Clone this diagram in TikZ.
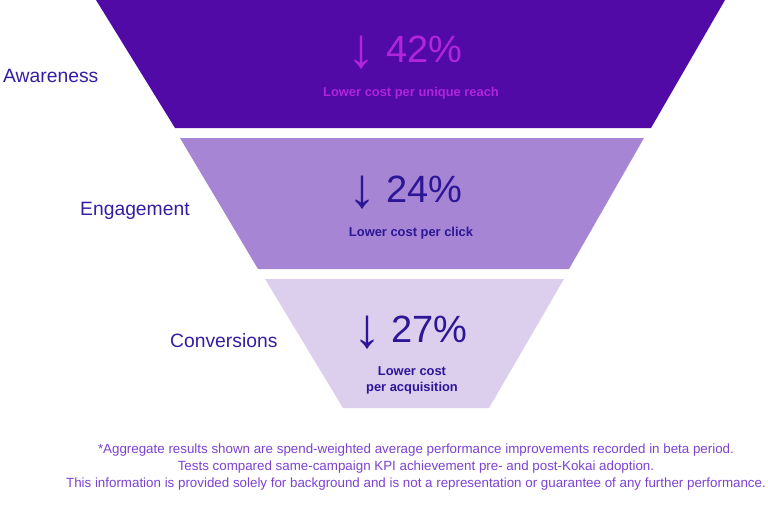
\documentclass[tikz,border=0pt]{standalone}
\usepackage{fontspec}
\setmainfont{Liberation Sans}
\definecolor{tierA}{RGB}{82,10,166}
\definecolor{tierB}{RGB}{166,134,212}
\definecolor{tierC}{RGB}{220,207,238}
\definecolor{magtxt}{RGB}{176,36,218}
\definecolor{navytxt}{RGB}{44,22,150}
\definecolor{lbltxt}{RGB}{52,30,166}
\definecolor{foottxt}{RGB}{124,66,210}
\begin{document}
\begin{tikzpicture}[x=1pt,y=-1pt,
  stage/.style={font=\fontsize{19.3}{21}\selectfont, text=lbltxt, inner sep=0pt},
  pct/.style={font=\fontsize{38}{40}\selectfont, inner sep=0pt, anchor=west},
  arr/.style={font=\fontsize{56}{58}\selectfont, inner sep=0pt},
  sub/.style={font=\fontsize{12.9}{16}\selectfont\bfseries, inner sep=0pt, align=center},
  foot/.style={font=\fontsize{13.35}{16.6}\selectfont, text=foottxt, inner sep=0pt, align=center}]
\useasboundingbox (0,0) rectangle (768,517);
\fill[white] (0,0) rectangle (768,517);
% funnel tiers
\fill[tierA] (96,0) -- (725,0) -- (651,128) -- (175,128) -- cycle;
\fill[tierB] (180,138) -- (644,138) -- (569,269) -- (258,269) -- cycle;
\fill[tierC] (265,279) -- (564,279) -- (489,408) -- (343,408) -- cycle;
% stage labels
\node[stage, anchor=west] (aw) at (3,76) {Awareness};
\node[stage, anchor=west] (en) at (80,211) {Engagement};
\node[stage, anchor=west] (co) at (170,341) {Conversions};
% metrics
\node[arr, text=magtxt] (a1) at (361,53) {↓};
\node[pct, text=magtxt] (p1) at (386,49) {42\%};
\node[sub, text=magtxt] (s1) at (411,93) {Lower cost per unique reach};
\node[arr, text=navytxt] (a2) at (362,193) {↓};
\node[pct, text=navytxt] (p2) at (386,189) {24\%};
\node[sub, text=navytxt] (s2) at (411,233) {Lower cost per click};
\node[arr, text=navytxt] (a3) at (367,333) {↓};
\node[pct, text=navytxt] (p3) at (391,329) {27\%};
\node[sub, text=navytxt] (s3) at (412,380.5) {Lower cost\\per acquisition};
% footnote
\node[foot] (fn) at (416,467) {*Aggregate results shown are spend-weighted average performance improvements recorded in beta period.\\Tests compared same-campaign KPI achievement pre- and post-Kokai adoption.\\This information is provided solely for background and is not a representation or guarantee of any further performance.};
\end{tikzpicture}
\end{document}
